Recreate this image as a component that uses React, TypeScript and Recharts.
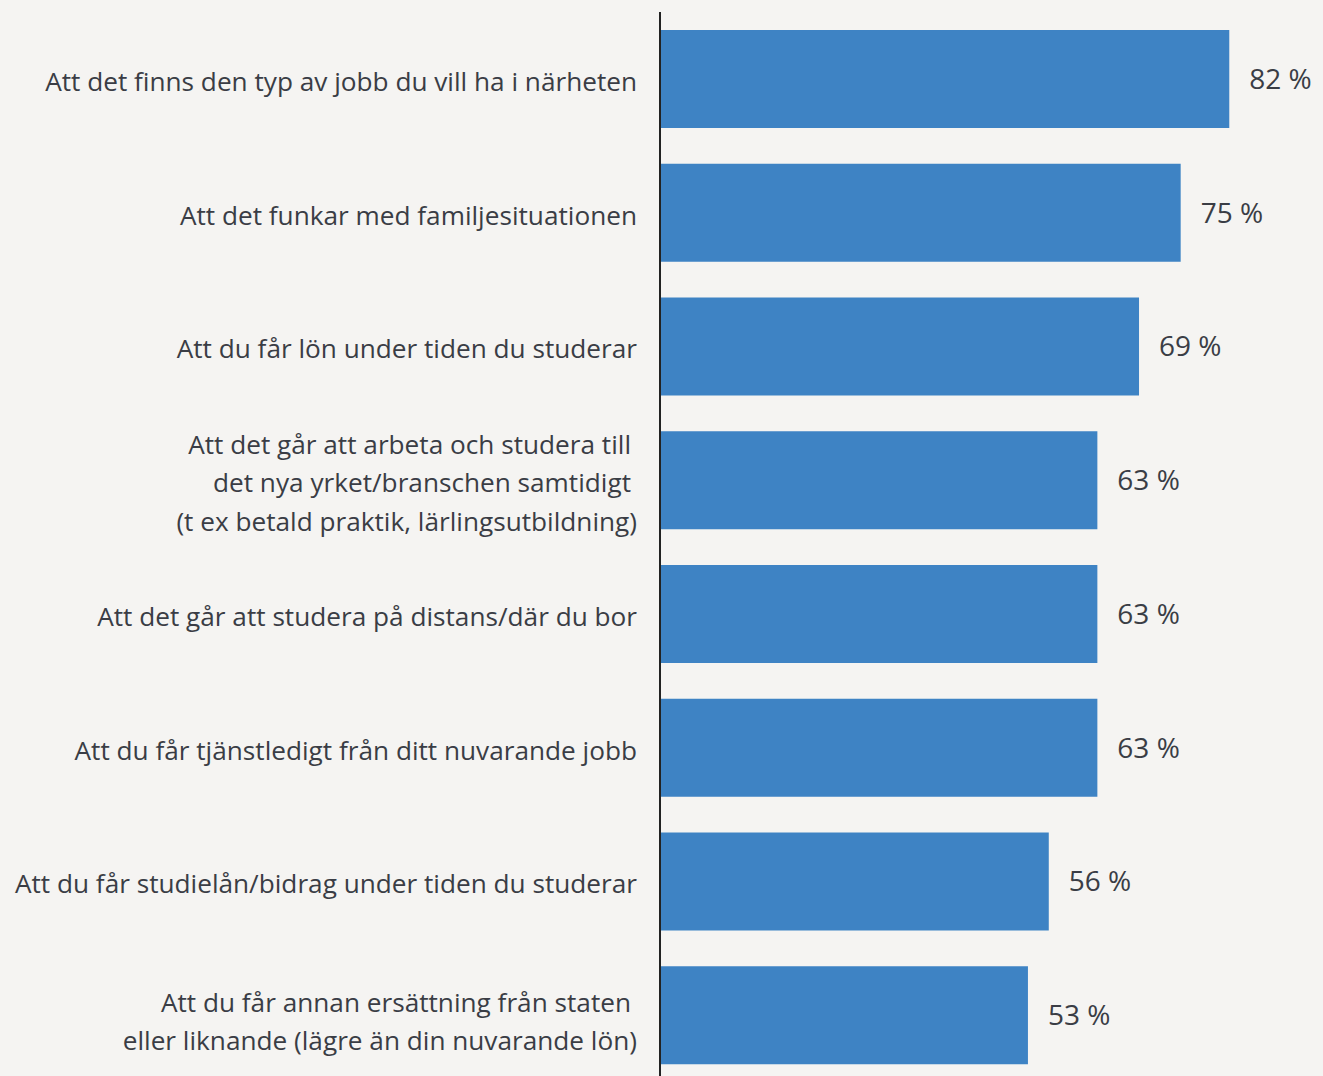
import { Bar, BarChart, LabelList, XAxis, YAxis } from "recharts";

const categories = [
  ["Att det finns den typ av jobb du vill ha i närheten"],
  ["Att det funkar med familjesituationen"],
  ["Att du får lön under tiden du studerar"],
  [
    "Att det går att arbeta och studera till",
    "det nya yrket/branschen samtidigt",
    "(t ex betald praktik, lärlingsutbildning)",
  ],
  ["Att det går att studera på distans/där du bor"],
  ["Att du får tjänstledigt från ditt nuvarande jobb"],
  ["Att du får studielån/bidrag under tiden du studerar"],
  ["Att du får annan ersättning från staten", "eller liknande (lägre än din nuvarande lön)"],
];

const values = [82, 75, 69, 63, 63, 63, 56, 53];

const data = categories.map((lines, i) => ({
  name: lines.join(" "),
  lines,
  value: values[i],
}));

const FONT = "'Open Sans', 'Noto Sans', sans-serif";
const TEXT = "#3a3d45";
const LINE_H = 38.5;

function CategoryTick(props: any) {
  const { x, y, payload, index } = props;
  const lines = categories[index] ?? [payload.value];
  const n = lines.length;
  return (
    <text x={x} y={y} textAnchor="end" fill={TEXT} fontSize={26.2} fontFamily={FONT}>
      {lines.map((line, i) => (
        <tspan
          key={i}
          x={i < n - 1 ? x - 6 : x}
          y={y + 12 + (n > 1 && index === categories.length - 1 ? 4 : 0) + (i - (n - 1) / 2) * LINE_H}
        >
          {line}
        </tspan>
      ))}
    </text>
  );
}

export default function App() {
  return (
    <div
      style={{
        position: "absolute",
        left: 0,
        top: 0,
        width: 1323,
        height: 1076,
        overflow: "hidden",
        background: "#f5f4f2",
      }}
    >
      <BarChart
        width={1323}
        height={1082}
        data={data}
        layout="vertical"
        margin={{ top: 12, right: 0, bottom: 0, left: 0 }}
      >
        <XAxis type="number" domain={[0, 95.5]} hide />
        <YAxis
          type="category"
          dataKey="name"
          width={660}
          axisLine={{ stroke: "#222", strokeWidth: 2 }}
          tickLine={false}
          tickSize={0}
          tickMargin={23}
          interval={0}
          tick={<CategoryTick />}
        />
        <Bar dataKey="value" fill="#3e83c4" barSize={98} isAnimationActive={false}>
          <LabelList
            dataKey="value"
            position="right"
            offset={20}
            formatter={(v: any) => `${v} %`}
            fill={TEXT}
            fontSize={28}
            fontFamily={FONT}
          />
        </Bar>
      </BarChart>
    </div>
  );
}
